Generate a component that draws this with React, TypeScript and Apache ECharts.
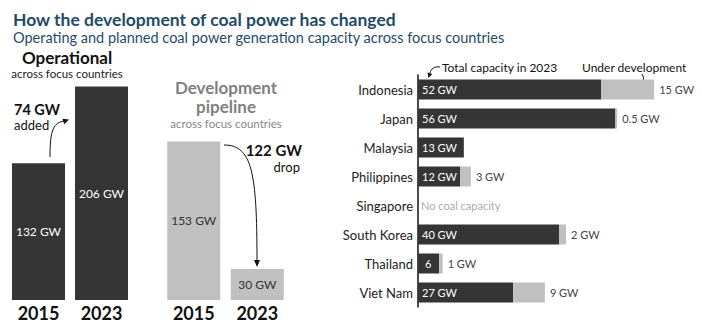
import React, { useEffect, useRef } from 'react';
import * as echarts from 'echarts';

const years = ['2015', '2023'];
const operational = [132, 206];
const pipeline = [153, 30];
const countries = ['Indonesia', 'Japan', 'Malaysia', 'Philippines', 'Singapore', 'South Korea', 'Thailand', 'Viet Nam'];
const operating2023 = [52, 56, 13, 12, 0, 40, 6, 27];
const underDev = [15, 0.5, 0, 3, 0, 2, 1, 9];
const operatingLabels = ['52 GW', '56 GW', '13 GW', '12 GW', '', '40 GW', '6', '27 GW'];
const underDevLabels = ['15 GW', '0.5 GW', '', '3 GW', 'No coal capacity', '2 GW', '1 GW', '9 GW'];

const DARK = '#353535';
const LIGHT = '#c0c0c0';
const FONT = 'Lato';

export default function App() {
  const ref = useRef<HTMLDivElement>(null);
  useEffect(() => {
    document.body.style.margin = '0';
    const chart = echarts.init(ref.current!, null, { renderer: 'svg' });
    const arrowHead = (tip: number[], dir: number[], size = 7, spread = 3.5) => {
      const len = Math.hypot(dir[0], dir[1]);
      const ux = dir[0] / len, uy = dir[1] / len;
      const bx = tip[0] - ux * size, by = tip[1] - uy * size;
      return {
        type: 'polygon',
        shape: { points: [tip, [bx - uy * spread, by + ux * spread], [bx + uy * spread, by - ux * spread]] },
        style: { fill: '#111' },
      };
    };
    const option: any = {
      animation: false,
      textStyle: { fontFamily: FONT },
      title: [
        {
          text: 'How the development of coal power has changed',
          left: 8, top: 5,
          textStyle: { fontFamily: FONT, fontSize: 17.5, fontWeight: 'bold', color: '#1f4b66' },
        },
        {
          text: 'Operating and planned coal power generation capacity across focus countries',
          left: 8, top: 25,
          textStyle: { fontFamily: FONT, fontSize: 14.5, fontWeight: 'normal', color: '#1f4b66' },
        },
      ],
      grid: [
        { left: 7, width: 126, top: 72, height: 228 },
        { left: 162, width: 127, top: 72, height: 228 },
        { left: 418, width: 282, top: 75, height: 232 },
      ],
      xAxis: [
        {
          gridIndex: 0, type: 'category', data: years,
          axisLine: { show: false }, axisTick: { show: false },
          axisLabel: { fontFamily: FONT, fontSize: 18, fontWeight: 'bold', color: '#111', margin: 4 },
        },
        {
          gridIndex: 1, type: 'category', data: years,
          axisLine: { show: false }, axisTick: { show: false },
          axisLabel: { fontFamily: FONT, fontSize: 18, fontWeight: 'bold', color: '#111', margin: 4 },
        },
        {
          gridIndex: 2, type: 'value', min: 0, max: 80, show: false,
        },
      ],
      yAxis: [
        { gridIndex: 0, type: 'value', min: 0, max: 220, show: false },
        { gridIndex: 1, type: 'value', min: 0, max: 220, show: false },
        {
          gridIndex: 2, type: 'category', data: countries, inverse: true,
          axisLine: { show: true, lineStyle: { color: '#111', width: 1.5 } },
          axisTick: { show: false },
          axisLabel: { fontFamily: FONT, fontSize: 13, color: '#222', margin: 5 },
        },
      ],
      series: [
        {
          type: 'bar', xAxisIndex: 0, yAxisIndex: 0, data: operational, barWidth: 53,
          itemStyle: { color: DARK },
          label: { show: true, position: 'inside', color: '#fff', fontFamily: FONT, fontSize: 12, formatter: (p: any) => `${p.value} GW` },
        },
        {
          type: 'bar', xAxisIndex: 1, yAxisIndex: 1, data: pipeline, barWidth: 53,
          itemStyle: { color: LIGHT },
          label: { show: true, position: 'inside', color: '#333', fontFamily: FONT, fontSize: 12, formatter: (p: any) => `${p.value} GW` },
        },
        {
          type: 'bar', xAxisIndex: 2, yAxisIndex: 2, stack: 'c', barWidth: 20,
          data: operating2023.map((v, i) => (i === 6 ? { value: v, label: { distance: 7 } } : v)),
          itemStyle: { color: DARK },
          label: {
            show: true, position: 'insideLeft', distance: 4, color: '#fff', fontFamily: FONT, fontSize: 11,
            formatter: (p: any) => operatingLabels[p.dataIndex],
          },
        },
        {
          type: 'bar', xAxisIndex: 2, yAxisIndex: 2, stack: 'c', barWidth: 20,
          data: underDev.map((v, i) => (i === 4 ? { value: v, label: { distance: 3, color: '#aaa' } } : v)),
          itemStyle: { color: LIGHT },
          label: {
            show: true, position: 'right', distance: 5, color: '#444', fontFamily: FONT, fontSize: 11,
            formatter: (p: any) => underDevLabels[p.dataIndex],
          },
        },
      ],
      graphic: [
        {
          type: 'text', x: 67, y: 64,
          style: {
            text: '{a|Operational}\n{b|across focus countries}', align: 'center', verticalAlign: 'middle',
            rich: {
              a: { fontFamily: FONT, fontSize: 17, fontWeight: 'bold', fill: '#111', lineHeight: 18, align: 'center' },
              b: { fontFamily: FONT, fontSize: 11.5, fill: '#222', lineHeight: 14, align: 'center' },
            },
          },
        },
        {
          type: 'text', x: 226, y: 104,
          style: {
            text: '{a|Development}\n{a|pipeline}\n{b|across focus countries}', align: 'center', verticalAlign: 'middle',
            rich: {
              a: { fontFamily: FONT, fontSize: 17, fontWeight: 'bold', fill: '#808080', lineHeight: 19, align: 'center' },
              b: { fontFamily: FONT, fontSize: 11.5, fill: '#888', lineHeight: 15, align: 'center' },
            },
          },
        },
        {
          type: 'text', x: 14, y: 117,
          style: {
            text: '{a|74 GW}\n{b|added}', align: 'left', verticalAlign: 'middle',
            rich: {
              a: { fontFamily: FONT, fontSize: 14.5, fontWeight: 'bold', fill: '#111', lineHeight: 16 },
              b: { fontFamily: FONT, fontSize: 13, fill: '#111', lineHeight: 15 },
            },
          },
        },
        {
          type: 'text', x: 302, y: 158,
          style: {
            text: '{a|122 GW}\n{b|drop}', align: 'right', verticalAlign: 'middle',
            rich: {
              a: { fontFamily: FONT, fontSize: 15, fontWeight: 'bold', fill: '#111', lineHeight: 17, align: 'right' },
              b: { fontFamily: FONT, fontSize: 13, fill: '#111', lineHeight: 16, align: 'right', padding: [0, 2, 0, 0] },
            },
          },
        },
        { type: 'text', x: 442, y: 67, style: { text: 'Total capacity in 2023', font: `12px ${FONT}`, fill: '#111', align: 'left', verticalAlign: 'middle' } },
        { type: 'text', x: 582, y: 67, style: { text: 'Under development', font: `12px ${FONT}`, fill: '#111', align: 'left', verticalAlign: 'middle' } },
        // 74 GW arrow
        {
          type: 'bezierCurve',
          shape: { x1: 50, y1: 157, cpx1: 50, cpy1: 128, cpx2: 54, cpy2: 123, x2: 64, y2: 121 },
          style: { stroke: '#111', lineWidth: 1, fill: null },
        },
        arrowHead([69, 119.5], [1, -0.35], 6, 3),
        // 122 GW arrow
        {
          type: 'bezierCurve',
          shape: { x1: 224, y1: 145, cpx1: 252, cpx2: 257, cpy1: 145, cpy2: 172, x2: 257, y2: 261 },
          style: { stroke: '#111', lineWidth: 1, fill: null },
        },
        arrowHead([257, 267], [0, 1], 7, 3),
        // Total capacity arrow
        {
          type: 'bezierCurve',
          shape: { x1: 440, y1: 67, cpx1: 434, cpy1: 66, cpx2: 431, cpy2: 69, x2: 430, y2: 73 },
          style: { stroke: '#111', lineWidth: 1, fill: null },
        },
        arrowHead([428.5, 78], [-0.3, 1], 5, 2.5),
        // Under development arrow
        {
          type: 'bezierCurve',
          shape: { x1: 642, y1: 74, cpx1: 645, cpy1: 79, cpx2: 643, cpy2: 83, x2: 640, y2: 85 },
          style: { stroke: '#111', lineWidth: 1, fill: null },
        },
        arrowHead([637, 88], [-0.8, 0.8], 5, 2.5),
      ],
    };
    chart.setOption(option);
    return () => chart.dispose();
  }, []);
  return <div ref={ref} style={{ width: 702, height: 323 }} />;
}
